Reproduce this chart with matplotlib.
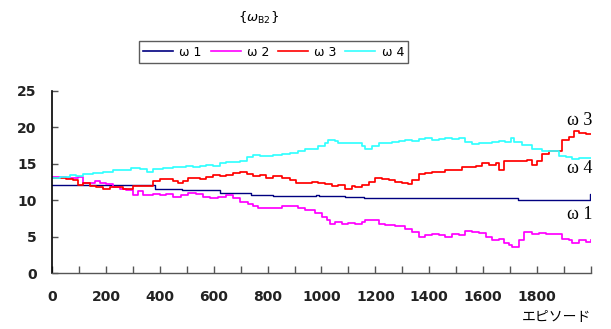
import matplotlib
matplotlib.use("Agg")
import matplotlib.pyplot as plt

# Weight trajectories over training episodes
ep_w1 = [0, 382, 484, 625, 740, 820, 978, 992, 1087, 1158, 1731, 1801, 1995, 2000]
w1 = [12.1, 11.55, 11.4, 10.95, 10.7, 10.58, 10.7, 10.58, 10.4, 10.25, 10.05, 10.05, 10.8, 10.8]

ep_w2 = [0, 53, 97, 116, 141, 160, 178, 202, 227, 251, 276, 301, 319, 337, 376, 400,
         424, 449, 480, 505, 536, 560, 585, 616, 647, 672, 697, 728, 746, 765, 795,
         827, 852, 883, 914, 939, 977, 1001, 1020, 1032, 1051, 1076, 1100, 1125, 1150,
         1162, 1187, 1212, 1237, 1274, 1311, 1336, 1361, 1386, 1411, 1435, 1460, 1485,
         1510, 1534, 1559, 1584, 1609, 1634, 1658, 1677, 1695, 1708, 1733, 1751, 1782,
         1807, 1832, 1869, 1894, 1919, 1931, 1956, 1981, 2000]
w2 = [13.2, 13.0, 13.2, 12.3, 12.3, 12.7, 12.3, 12.2, 11.8, 11.6, 11.4, 10.7, 11.2, 10.7,
      10.9, 10.7, 10.8, 10.5, 10.7, 11.0, 10.9, 10.5, 10.3, 10.4, 10.7, 10.3, 9.8, 9.5,
      9.2, 8.9, 8.9, 8.9, 9.2, 9.2, 8.9, 8.65, 8.3, 7.7, 7.3, 6.7, 7.0, 6.7, 6.9, 6.7,
      7.0, 7.3, 7.3, 6.8, 6.6, 6.45, 6.0, 5.7, 5.0, 5.2, 5.4, 5.2, 5.0, 5.4, 5.2, 5.8,
      5.7, 5.5, 5.0, 4.6, 4.7, 4.1, 3.8, 3.6, 4.5, 5.7, 5.4, 5.5, 5.4, 5.4, 4.7, 4.5,
      4.1, 4.5, 4.3, 4.5]

ep_w3 = [0, 28, 53, 78, 97, 116, 141, 165, 190, 215, 240, 264, 282, 301, 326, 357, 376,
         400, 424, 449, 468, 486, 505, 523, 548, 573, 598, 622, 647, 672, 697, 722, 746,
         771, 795, 820, 852, 883, 907, 939, 964, 989, 1014, 1038, 1063, 1088, 1113, 1125,
         1150, 1175, 1200, 1224, 1249, 1274, 1299, 1323, 1336, 1361, 1386, 1411, 1435,
         1460, 1485, 1510, 1522, 1547, 1572, 1596, 1621, 1646, 1658, 1677, 1708, 1733,
         1764, 1782, 1801, 1820, 1844, 1869, 1894, 1919, 1937, 1956, 1981, 2000]
w3 = [13.0, 13.1, 12.9, 12.8, 12.1, 12.3, 11.9, 11.8, 11.6, 11.8, 11.8, 11.5, 11.6, 11.9,
      11.9, 11.9, 12.7, 12.9, 12.9, 12.7, 12.4, 12.7, 13.0, 13.1, 12.9, 13.2, 13.5, 13.3,
      13.5, 13.7, 13.9, 13.6, 13.3, 13.5, 13.1, 13.3, 13.1, 12.8, 12.4, 12.3, 12.5, 12.4,
      12.2, 11.9, 12.1, 11.6, 11.9, 11.8, 12.1, 12.5, 13.0, 12.9, 12.8, 12.5, 12.3, 12.2,
      12.8, 13.6, 13.8, 13.9, 13.9, 14.1, 14.1, 14.2, 14.6, 14.5, 14.7, 15.1, 14.8, 15.1,
      14.1, 15.4, 15.4, 15.4, 15.5, 14.8, 15.4, 16.3, 16.7, 16.8, 18.3, 18.7, 19.5, 19.2,
      19.1, 19.1]

ep_w4 = [0, 28, 65, 90, 116, 153, 190, 227, 264, 295, 326, 351, 376, 412, 449, 474, 498,
         523, 548, 573, 598, 622, 647, 672, 697, 722, 746, 771, 795, 820, 852, 883, 914,
         939, 964, 989, 1014, 1026, 1051, 1063, 1088, 1125, 1150, 1162, 1187, 1212, 1237,
         1262, 1287, 1311, 1336, 1361, 1386, 1411, 1435, 1460, 1485, 1510, 1534, 1559,
         1584, 1609, 1634, 1658, 1683, 1702, 1714, 1745, 1782, 1820, 1857, 1882, 1907,
         1931, 1956, 1981, 2000]
w4 = [13.1, 13.2, 13.4, 13.3, 13.6, 13.7, 13.9, 14.1, 14.1, 14.4, 14.3, 13.9, 14.3, 14.4,
      14.5, 14.5, 14.7, 14.5, 14.7, 14.8, 14.7, 15.1, 15.3, 15.3, 15.4, 15.9, 16.2, 16.1,
      16.1, 16.2, 16.3, 16.5, 16.8, 17.0, 17.1, 17.4, 17.8, 18.3, 18.2, 17.8, 17.9, 17.8,
      17.4, 17.1, 17.4, 17.9, 17.9, 18.0, 18.2, 18.3, 18.2, 18.4, 18.5, 18.3, 18.4, 18.5,
      18.4, 18.5, 18.0, 17.7, 17.9, 17.8, 18.0, 18.2, 18.0, 18.5, 18.0, 17.6, 17.1, 16.7,
      16.7, 16.1, 16.0, 15.6, 15.8, 15.8, 15.8]

series = [
    ("ω 1", ep_w1, w1, "#000080", 1.0),
    ("ω 2", ep_w2, w2, "#ff00ff", 1.25),
    ("ω 3", ep_w3, w3, "#ff0000", 1.25),
    ("ω 4", ep_w4, w4, "#33ffff", 1.25),
]

end_labels = [("ω 3", 21.0), ("ω 4", 14.3), ("ω 1", 8.0)]
x_ticks = list(range(0, 2001, 100))
x_labels = [str(t) if t % 200 == 0 and t < 2000 else "" for t in x_ticks]
y_ticks = [0, 5, 10, 15, 20, 25]

fig = plt.figure(figsize=(6.11, 3.29), dpi=100)
ax = fig.add_axes([0.0851, 0.170, 0.882, 0.5535])

handles = []
for name, ep, vals, color, lw in series:
    h, = ax.plot(ep, vals, drawstyle="steps-post", color=color, lw=lw, label=name)
    handles.append(h)

ax.set_xlim(0, 2000)
ax.set_ylim(0, 25)
ax.set_xticks(x_ticks)
ax.set_xticklabels(x_labels)
ax.set_yticks(y_ticks)

for side in ("top", "right"):
    ax.spines[side].set_visible(False)
ax.spines["left"].set_color("black")
ax.spines["left"].set_linewidth(1.2)
ax.spines["bottom"].set_color("#555555")
ax.spines["bottom"].set_linewidth(1.0)

ax.tick_params(axis="x", direction="in", length=5, width=1, color="#555555", pad=12)
ax.tick_params(axis="y", direction="in", length=4, width=1, color="#555555", pad=11)
for lab in ax.get_xticklabels() + ax.get_yticklabels():
    lab.set_fontfamily("DejaVu Sans")
    lab.set_fontweight("bold")
    lab.set_fontsize(10)
    lab.set_color("#222222")

for text, yv in end_labels:
    ax.text(2005, yv, text, ha="right", va="center", fontsize=13,
            family="Liberation Serif", clip_on=False)

fig.text(0.967, 1 - 317 / 329, "エピソード", ha="right", va="center",
         fontsize=10, family=["Noto Sans CJK JP", "DejaVu Sans"])

plt.rcParams["mathtext.fontset"] = "dejavusans"
fig.text(259 / 611, 1 - 18 / 329, r"{$\omega_{\mathsf{B2}}$}", ha="center",
         va="center", fontsize=9.5)

leg = fig.legend(handles=handles, loc="center", ncol=4,
                 bbox_to_anchor=(273.5 / 611, 1 - 52 / 329),
                 fontsize=9, handlelength=2.4, handletextpad=0.5,
                 columnspacing=0.7, borderpad=0.35, fancybox=False,
                 frameon=True, edgecolor="#333333")
leg.get_frame().set_linewidth(1.0)
for line in leg.get_lines():
    line.set_linewidth(1.2)

fig.savefig("out.png", dpi=100)
